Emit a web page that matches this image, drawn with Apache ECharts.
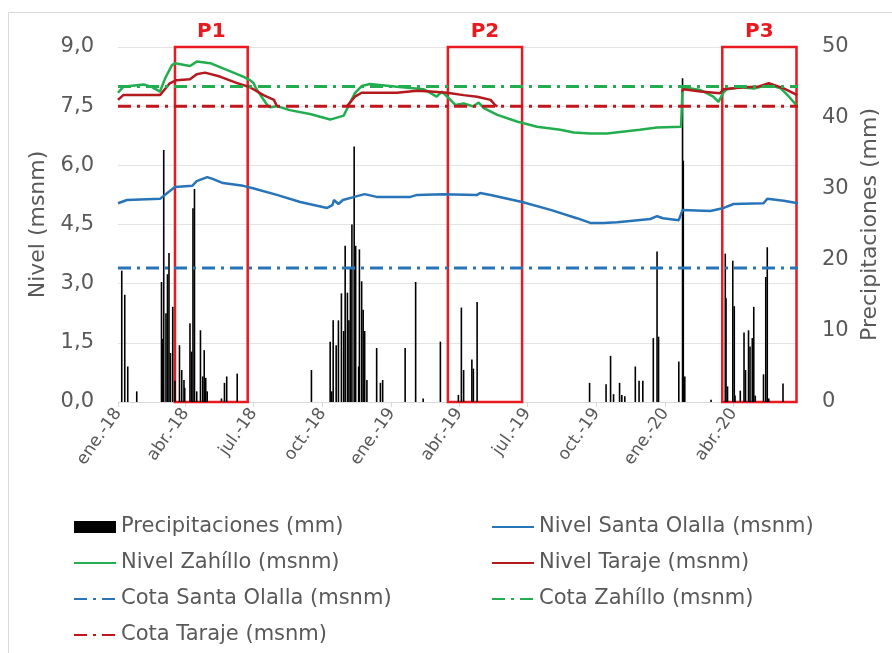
<!DOCTYPE html>
<html>
<head>
<meta charset="utf-8">
<script src="https://cdn.jsdelivr.net/npm/echarts@6/dist/echarts.min.js"></script>
<style>
  html, body { margin: 0; padding: 0; background: #fff; }
  #chart-container { width: 892px; height: 653px; }
</style>
</head>
<body>
<div id="chart-container"></div>
<script>
// eje X: marcas trimestrales
var tickDates = ['2018-01-01', '2018-04-01', '2018-07-01', '2018-10-01', '2019-01-01',
  '2019-04-01', '2019-07-01', '2019-10-01', '2020-01-01', '2020-04-01'];
var tickLabels = ['ene.-18', 'abr.-18', 'jul.-18', 'oct.-18', 'ene.-19',
  'abr.-19', 'jul.-19', 'oct.-19', 'ene.-20', 'abr.-20'];
var fechaInicio = '2018-01-01';
var fechaFin = '2020-06-26';

// precipitación diaria (mm)
var precipitaciones = [
  ['2018-01-06', 18.5], ['2018-01-10', 15.1], ['2018-01-14', 5.0], ['2018-01-26', 1.5],
  ['2018-02-28', 16.9], ['2018-03-01', 8.9], ['2018-03-03', 35.5], ['2018-03-06', 12.5],
  ['2018-03-08', 18.0], ['2018-03-10', 21.0], ['2018-03-12', 6.9], ['2018-03-15', 13.4],
  ['2018-03-18', 3.0], ['2018-03-24', 8.0], ['2018-03-27', 4.5], ['2018-03-30', 3.1],
  ['2018-03-31', 2.0], ['2018-04-07', 11.1], ['2018-04-09', 7.1], ['2018-04-11', 27.3],
  ['2018-04-13', 30.0], ['2018-04-16', 1.5], ['2018-04-21', 10.1], ['2018-04-24', 3.6],
  ['2018-04-26', 7.3], ['2018-04-28', 3.4], ['2018-04-30', 1.5], ['2018-05-19', 0.5],
  ['2018-05-23', 2.7], ['2018-05-26', 3.6], ['2018-06-09', 4.0], ['2018-09-16', 4.5],
  ['2018-10-11', 8.5], ['2018-10-13', 1.5], ['2018-10-15', 11.5], ['2018-10-19', 8.0],
  ['2018-10-22', 11.5], ['2018-10-26', 15.3], ['2018-10-29', 10.0], ['2018-10-31', 22.0],
  ['2018-11-03', 15.4], ['2018-11-05', 11.5], ['2018-11-07', 19.0], ['2018-11-09', 25.0],
  ['2018-11-12', 36.0], ['2018-11-14', 22.0], ['2018-11-18', 5.0], ['2018-11-19', 21.5],
  ['2018-11-22', 17.0], ['2018-11-24', 13.0], ['2018-11-26', 10.0], ['2018-11-29', 3.1],
  ['2018-12-12', 7.6], ['2018-12-17', 2.7], ['2018-12-20', 3.1], ['2019-01-19', 7.6],
  ['2019-02-02', 16.9], ['2019-02-12', 0.5], ['2019-03-07', 8.5], ['2019-03-31', 1.0],
  ['2019-04-04', 13.3], ['2019-04-07', 4.5], ['2019-04-18', 6.0], ['2019-04-20', 4.7],
  ['2019-04-25', 14.1], ['2019-09-22', 2.7], ['2019-10-14', 2.5], ['2019-10-20', 6.5],
  ['2019-10-24', 1.1], ['2019-11-01', 2.7], ['2019-11-04', 1.0], ['2019-11-08', 0.8],
  ['2019-11-22', 5.0], ['2019-11-27', 3.0], ['2019-12-02', 3.0], ['2019-12-16', 9.0],
  ['2019-12-21', 21.2], ['2019-12-23', 9.2], ['2020-01-19', 5.7], ['2020-01-24', 45.6],
  ['2020-01-25', 34.0], ['2020-01-27', 3.6], ['2020-03-02', 0.3], ['2020-03-21', 20.9],
  ['2020-03-22', 14.6], ['2020-03-24', 2.2], ['2020-03-31', 19.9], ['2020-04-02', 13.5],
  ['2020-04-03', 0.9], ['2020-04-10', 1.6], ['2020-04-15', 9.8], ['2020-04-17', 4.5],
  ['2020-04-21', 10.1], ['2020-04-23', 7.8], ['2020-04-26', 9.0], ['2020-04-28', 13.4],
  ['2020-04-30', 0.9], ['2020-05-11', 3.9], ['2020-05-14', 17.6], ['2020-05-16', 21.8],
  ['2020-05-18', 0.5], ['2020-06-06', 2.6]
];

// niveles (msnm)
var nivelSantaOlalla = [
  ['2018-01-01', 5.04], ['2018-01-13', 5.12], ['2018-02-26', 5.15], ['2018-03-09', 5.32],
  ['2018-03-18', 5.45], ['2018-04-10', 5.48], ['2018-04-16', 5.60], ['2018-04-30', 5.70],
  ['2018-05-08', 5.65], ['2018-05-21', 5.55], ['2018-06-17', 5.48], ['2018-06-30', 5.42],
  ['2018-08-01', 5.25], ['2018-09-01', 5.07], ['2018-10-07', 4.92], ['2018-10-14', 4.99],
  ['2018-10-16', 5.12], ['2018-10-22', 5.02], ['2018-10-28', 5.12], ['2018-11-16', 5.22],
  ['2018-11-26', 5.27], ['2018-12-12', 5.20], ['2019-01-26', 5.20], ['2019-02-04', 5.25],
  ['2019-03-11', 5.27], ['2019-04-25', 5.25], ['2019-04-29', 5.30], ['2019-05-13', 5.25],
  ['2019-06-24', 5.07], ['2019-08-01', 4.87], ['2019-09-05', 4.66], ['2019-09-23', 4.54],
  ['2019-10-10', 4.54], ['2019-10-29', 4.56], ['2019-12-12', 4.64], ['2019-12-21', 4.71],
  ['2019-12-29', 4.66], ['2020-01-19', 4.61], ['2020-01-24', 4.87], ['2020-03-01', 4.84],
  ['2020-03-19', 4.92], ['2020-04-01', 5.02], ['2020-05-11', 5.04], ['2020-05-16', 5.15],
  ['2020-06-07', 5.10], ['2020-06-26', 5.04]
];
var nivelZahillo = [
  ['2018-01-01', 7.84], ['2018-01-08', 7.99], ['2018-02-04', 8.05], ['2018-02-15', 7.99],
  ['2018-02-26', 7.87], ['2018-03-05', 8.21], ['2018-03-14', 8.54], ['2018-03-18', 8.59],
  ['2018-04-07', 8.52], ['2018-04-16', 8.63], ['2018-05-04', 8.59], ['2018-05-26', 8.42],
  ['2018-06-17', 8.25], ['2018-06-26', 8.16], ['2018-07-01', 8.08], ['2018-07-03', 7.99],
  ['2018-07-10', 7.78], ['2018-07-19', 7.53], ['2018-07-23', 7.47], ['2018-08-01', 7.50],
  ['2018-08-18', 7.40], ['2018-09-14', 7.30], ['2018-10-11', 7.16], ['2018-10-29', 7.26],
  ['2018-11-04', 7.49], ['2018-11-13', 7.83], ['2018-11-22', 8.01], ['2018-12-03', 8.06],
  ['2019-01-08', 7.99], ['2019-02-13', 7.93], ['2019-03-02', 7.74], ['2019-03-09', 7.87],
  ['2019-03-16', 7.74], ['2019-03-27', 7.53], ['2019-04-07', 7.57], ['2019-04-20', 7.49],
  ['2019-04-27', 7.59], ['2019-05-04', 7.45], ['2019-05-22', 7.28], ['2019-06-17', 7.11],
  ['2019-07-14', 6.98], ['2019-08-14', 6.90], ['2019-09-01', 6.83], ['2019-09-23', 6.81],
  ['2019-10-15', 6.81], ['2019-11-28', 6.90], ['2019-12-21', 6.96], ['2020-01-22', 6.98],
  ['2020-01-24', 7.98], ['2020-02-17', 7.91], ['2020-03-05', 7.74], ['2020-03-12', 7.61],
  ['2020-03-18', 7.83], ['2020-03-23', 7.93], ['2020-04-10', 7.98], ['2020-04-28', 7.95],
  ['2020-05-18', 8.04], ['2020-06-03', 7.95], ['2020-06-14', 7.74], ['2020-06-25', 7.50]
];
var nivelTaraje = [
  ['2018-01-01', 7.66], ['2018-01-08', 7.78], ['2018-02-26', 7.78], ['2018-03-11', 8.08],
  ['2018-03-20', 8.16], ['2018-04-07', 8.18], ['2018-04-16', 8.31], ['2018-04-27', 8.35],
  ['2018-05-17', 8.25], ['2018-06-08', 8.09], ['2018-06-26', 7.98], ['2018-07-14', 7.78],
  ['2018-07-28', 7.66], ['2018-08-01', 7.50], ['2018-09-15', '-'],
  ['2018-11-02', 7.49], ['2018-11-13', 7.74], ['2018-11-22', 7.84], ['2019-01-08', 7.84],
  ['2019-02-04', 7.89], ['2019-02-22', 7.87], ['2019-03-16', 7.84], ['2019-04-07', 7.78],
  ['2019-04-25', 7.74], ['2019-05-13', 7.66], ['2019-05-19', 7.53], ['2019-05-22', 7.49],
  ['2019-09-15', '-'],
  ['2020-01-23', 7.87], ['2020-01-25', 7.93], ['2020-02-17', 7.87], ['2020-03-14', 7.83],
  ['2020-03-19', 7.93], ['2020-04-14', 7.98], ['2020-05-03', 7.99], ['2020-05-18', 8.08],
  ['2020-06-07', 7.95], ['2020-06-25', 7.78]
];

// cotas (msnm)
var cotaSantaOlalla = 3.4;
var cotaZahillo = 8.0;
var cotaTaraje = 7.5;

// periodos marcados
var periodos = [
  ['P1', '2018-03-18', '2018-06-23'],
  ['P2', '2019-03-17', '2019-06-24'],
  ['P3', '2020-03-17', '2020-06-24']
];

var AZUL = '#2874b8';
var VERDE = '#22ad4f';
var ROJO = '#b4191e';
var GRIS = '#595959';
var FONT = 'DejaVu Sans';
var DASHDOT = [13, 6, 3, 6];

// fechas -> milisegundos para un eje de valores
function ts(d) { return echarts.time.parse(d).getTime(); }
function serie(arr) {
  return arr.map(function (p) { return [ts(p[0]), p[1]]; });
}
function cota(v) {
  return [[ts(fechaInicio), v], [ts(fechaFin), v]];
}
var tickTimes = tickDates.map(ts);

var dom = document.getElementById('chart-container');
var myChart = echarts.init(dom, null, { renderer: 'canvas' });

var legendText = { color: GRIS, fontSize: 21, fontFamily: FONT, lineHeight: 22 };
// solo la línea en los iconos de la leyenda, sin el círculo
function itemLinea(name) {
  return { name: name, itemStyle: { opacity: 0 } };
}

var option = {
  animation: false,
  textStyle: { fontFamily: FONT },
  graphic: [{
    type: 'rect', silent: true, z: -1,
    shape: { x: 8.5, y: 12.5, width: 1000, height: 1000 },
    style: { fill: 'none', stroke: '#d9d9d9', lineWidth: 1 }
  }],
  grid: { left: 118, right: 94, top: 47, bottom: 251 },
  legend: [
    {
      orient: 'vertical', left: 68, top: 511, itemGap: 14, itemWidth: 42, itemHeight: 12,
      textStyle: legendText, selectedMode: false,
      data: [{ name: 'Precipitaciones (mm)', icon: 'rect' }, itemLinea('Nivel Zahíllo (msnm)'),
        itemLinea('Cota Santa Olalla (msnm)'), itemLinea('Cota Taraje (msnm)')]
    },
    {
      orient: 'vertical', left: 486, top: 511, itemGap: 14, itemWidth: 42, itemHeight: 12,
      textStyle: legendText, selectedMode: false,
      data: [itemLinea('Nivel Santa Olalla (msnm)'), itemLinea('Nivel Taraje (msnm)'),
        itemLinea('Cota Zahíllo (msnm)')]
    }
  ],
  xAxis: {
    type: 'value',
    min: ts(fechaInicio),
    max: ts(fechaFin),
    splitLine: { show: false },
    axisLine: { lineStyle: { color: '#d9d9d9' } },
    axisTick: { show: true, length: 5, customValues: tickTimes, lineStyle: { color: '#d9d9d9' } },
    axisLabel: {
      customValues: tickTimes,
      rotate: 55,
      margin: 8,
      color: GRIS,
      fontSize: 17,
      fontFamily: FONT,
      formatter: function (val) {
        var i = tickTimes.indexOf(val);
        return i >= 0 ? tickLabels[i] : '';
      }
    }
  },
  yAxis: [
    {
      type: 'value', min: 0, max: 9, interval: 1.5,
      name: 'Nivel (msnm)', nameLocation: 'middle', nameGap: 66,
      nameTextStyle: { color: GRIS, fontSize: 22, fontFamily: FONT },
      axisLine: { show: false }, axisTick: { show: false },
      splitLine: { lineStyle: { color: '#e3e3e3' } },
      axisLabel: {
        color: GRIS, fontSize: 21, margin: 24, fontFamily: FONT,
        formatter: function (v) { return v.toFixed(1).replace('.', ','); }
      }
    },
    {
      type: 'value', min: 0, max: 50, interval: 10,
      name: 'Precipitaciones (mm)', nameLocation: 'middle', nameGap: 60, nameRotate: 90,
      nameTextStyle: { color: GRIS, fontSize: 22, fontFamily: FONT },
      axisLine: { show: false }, axisTick: { show: false }, splitLine: { show: false },
      axisLabel: { color: GRIS, fontSize: 21, margin: 24, fontFamily: FONT }
    }
  ],
  series: [
    {
      name: 'Precipitaciones (mm)', type: 'bar', yAxisIndex: 1,
      data: serie(precipitaciones), barWidth: 1.6,
      itemStyle: { color: '#000' }
    },
    {
      name: 'Nivel Santa Olalla (msnm)', type: 'line', data: serie(nivelSantaOlalla),
      symbol: 'none', showSymbol: false,
      lineStyle: { color: AZUL, width: 2.5 }, itemStyle: { color: AZUL }
    },
    {
      name: 'Nivel Zahíllo (msnm)', type: 'line', data: serie(nivelZahillo),
      symbol: 'none', showSymbol: false,
      lineStyle: { color: VERDE, width: 2.5 }, itemStyle: { color: VERDE }
    },
    {
      name: 'Nivel Taraje (msnm)', type: 'line', data: serie(nivelTaraje),
      symbol: 'none', showSymbol: false, connectNulls: false,
      lineStyle: { color: ROJO, width: 2.5 }, itemStyle: { color: ROJO }
    },
    {
      name: 'Cota Santa Olalla (msnm)', type: 'line', data: cota(cotaSantaOlalla),
      symbol: 'none', showSymbol: false,
      lineStyle: { color: AZUL, width: 3, type: DASHDOT }, itemStyle: { color: AZUL }
    },
    {
      name: 'Cota Zahíllo (msnm)', type: 'line', data: cota(cotaZahillo),
      symbol: 'none', showSymbol: false,
      lineStyle: { color: VERDE, width: 3, type: DASHDOT }, itemStyle: { color: VERDE }
    },
    {
      name: 'Cota Taraje (msnm)', type: 'line', data: cota(cotaTaraje),
      symbol: 'none', showSymbol: false,
      lineStyle: { color: '#c0161c', width: 3, type: DASHDOT }, itemStyle: { color: '#c0161c' }
    },
    {
      name: 'Periodos', type: 'line', data: [], z: 10, silent: true,
      markArea: {
        silent: true,
        itemStyle: { color: 'rgba(0,0,0,0)', borderColor: '#e8191f', borderWidth: 2.5 },
        label: {
          show: true, position: 'top', distance: 4,
          color: '#e8191f', fontWeight: 'bold', fontSize: 20, fontFamily: FONT
        },
        data: periodos.map(function (p) {
          return [{ name: p[0], xAxis: ts(p[1]) }, { xAxis: ts(p[2]) }];
        })
      }
    }
  ]
};

myChart.setOption(option);
window.addEventListener('resize', myChart.resize);
</script>
</body>
</html>
